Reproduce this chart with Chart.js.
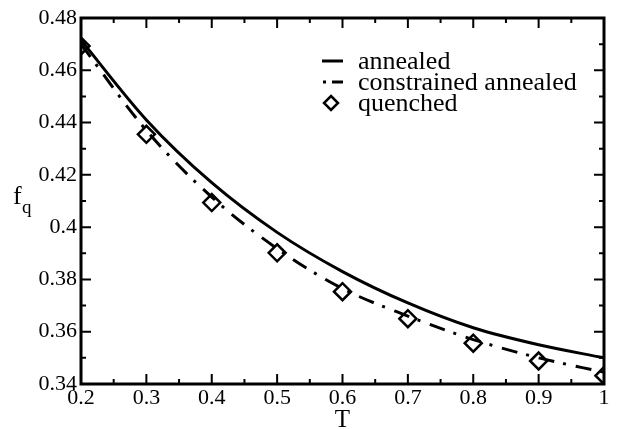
<!DOCTYPE html>
<html>
<head>
<meta charset="utf-8">
<script src="https://cdn.jsdelivr.net/npm/chart.js@4.4.0/dist/chart.umd.min.js"></script>
<style>
  body { margin: 0; background: #fff; }
  #wrap { width: 620px; height: 429px; position: relative; }
</style>
</head>
<body>
<div id="wrap"><canvas id="fq-chart"></canvas></div>
<script>
// temperatures and f_q values
const temps = [0.2, 0.3, 0.4, 0.5, 0.6, 0.7, 0.8, 0.9, 1.0];
const annealed = [0.4715, 0.4410, 0.4170, 0.3980, 0.3830, 0.3710, 0.3615, 0.3550, 0.3500];
const constrained = [0.4700, 0.4370, 0.4115, 0.3918, 0.3765, 0.3660, 0.3570, 0.3500, 0.3445];
const quenched = [0.4693, 0.4355, 0.4094, 0.3902, 0.3753, 0.3650, 0.3556, 0.3488, 0.3432];

const xMin = 0.2, xMax = 1.0, xStep = 0.1, xMinor = 0.05;
const yMin = 0.34, yMax = 0.48, yStep = 0.02, yMinor = 0.01;

const serif = "'Liberation Serif', 'DejaVu Serif', serif";
const dashDot = [16, 9, 3, 10];

const toPoints = (vals) => temps.map((t, i) => ({ x: t, y: vals[i] }));
const fmt = (v) => String(parseFloat(v.toFixed(2)));

// frame with inward ticks on all four sides, titles and legend
const framePlugin = {
  id: "frame",
  afterDraw(chart) {
    const { ctx, chartArea: a, scales } = chart;
    const xs = scales.x, ys = scales.y;
    ctx.save();
    ctx.strokeStyle = "#000";
    ctx.lineWidth = 2;
    const nx = Math.round((xMax - xMin) / xMinor);
    for (let i = 0; i <= nx; i++) {
      const px = xs.getPixelForValue(xMin + i * xMinor);
      const len = i % 2 === 0 ? 10 : 5;
      ctx.beginPath();
      ctx.moveTo(px, a.bottom); ctx.lineTo(px, a.bottom - len);
      ctx.moveTo(px, a.top); ctx.lineTo(px, a.top + len);
      ctx.stroke();
    }
    const ny = Math.round((yMax - yMin) / yMinor);
    for (let i = 0; i <= ny; i++) {
      const py = ys.getPixelForValue(yMin + i * yMinor);
      const len = i % 2 === 0 ? 10 : 5;
      ctx.beginPath();
      ctx.moveTo(a.left, py); ctx.lineTo(a.left + len, py);
      ctx.moveTo(a.right, py); ctx.lineTo(a.right - len, py);
      ctx.stroke();
    }
    ctx.lineWidth = 3;
    ctx.strokeRect(a.left, a.top, a.right - a.left, a.bottom - a.top);

    // axis titles
    ctx.fillStyle = "#000";
    ctx.textBaseline = "alphabetic";
    ctx.textAlign = "center";
    ctx.font = "25px " + serif;
    ctx.fillText("T", (a.left + a.right) / 2, 427);
    ctx.textAlign = "left";
    ctx.font = "26px " + serif;
    ctx.fillText("f", 13, 204);
    ctx.font = "19px " + serif;
    ctx.fillText("q", 22, 213);

    // legend
    const rows = [61, 82, 103];
    ctx.font = "26px " + serif;
    ctx.textBaseline = "middle";
    chart.data.datasets.forEach((ds, i) => {
      const y = rows[i];
      if (ds.showLine === false) {
        ctx.lineWidth = 2.5;
        ctx.beginPath();
        ctx.moveTo(331, y - 7); ctx.lineTo(338, y); ctx.lineTo(331, y + 7); ctx.lineTo(324, y);
        ctx.closePath();
        ctx.stroke();
      } else if (ds.borderDash) {
        ctx.lineWidth = 3;
        ctx.beginPath();
        ctx.moveTo(323, y); ctx.lineTo(326, y);
        ctx.moveTo(332, y); ctx.lineTo(343, y);
        ctx.stroke();
      } else {
        ctx.lineWidth = 3;
        ctx.beginPath();
        ctx.moveTo(322, y); ctx.lineTo(343, y);
        ctx.stroke();
      }
      ctx.fillText(ds.label, 358, y + 1);
    });
    ctx.restore();
  },
};

const fqCanvas = document.getElementById("fq-chart");

let fqChart = new Chart(fqCanvas, {
  type: "line",
  data: {
    datasets: [
      {
        label: "annealed",
        data: toPoints(annealed),
        borderColor: "#000",
        borderWidth: 3,
        pointRadius: 0,
        cubicInterpolationMode: "monotone",
      },
      {
        label: "constrained annealed",
        data: toPoints(constrained),
        borderColor: "#000",
        borderWidth: 3,
        borderDash: dashDot,
        pointRadius: 0,
        cubicInterpolationMode: "monotone",
      },
      {
        label: "quenched",
        data: toPoints(quenched),
        showLine: false,
        pointStyle: "rectRot",
        pointRadius: 8.5,
        pointBorderWidth: 2.5,
        pointBorderColor: "#000",
        pointBackgroundColor: "rgba(0,0,0,0)",
      },
    ],
  },
  options: {
    responsive: true,
    maintainAspectRatio: false,
    animation: { duration: 0 },
    layout: { padding: { top: 18, right: 16, left: 0, bottom: 0 } },
    scales: {
      x: {
        type: "linear",
        min: xMin,
        max: xMax,
        grid: { display: false, drawTicks: false },
        border: { display: false },
        ticks: {
          stepSize: xStep,
          color: "#000",
          padding: 1,
          font: { family: serif, size: 22 },
          maxRotation: 0,
          callback: (v) => fmt(v),
        },
        afterFit: (scale) => { scale.height = 45; },
      },
      y: {
        min: yMin,
        max: yMax,
        grid: { display: false, drawTicks: false },
        border: { display: false },
        ticks: {
          stepSize: yStep,
          color: "#000",
          padding: 4,
          font: { family: serif, size: 22 },
          callback: (v) => fmt(v),
        },
        afterFit: (scale) => { scale.width = 81; },
      },
    },
    plugins: {
      legend: { display: false },
      tooltip: { enabled: false },
    },
  },
  plugins: [framePlugin],
});
</script>
</body>
</html>
